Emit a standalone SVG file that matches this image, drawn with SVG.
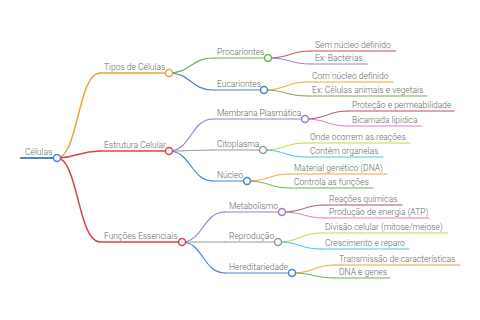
<svg xmlns="http://www.w3.org/2000/svg" width="480" height="320" viewBox="0 0 480 320">
<style>
text{font-family:Roboto,"Liberation Sans",sans-serif;font-weight:300;font-size:8.5px;fill:#666}
path,line{fill:none;stroke-linecap:round}
circle{fill:#fff;stroke-width:1.5}
.l0{stroke-width:2}.l1{stroke-width:1.5}.l2{stroke-width:1.2}.l3{stroke-width:1}
.blue{stroke:#4a86c5}.orange{stroke:#f0a33a}.red{stroke:#d64550}.green{stroke:#6fb24f}
.purple{stroke:#a07fd4}.gray{stroke:#9a9a9a}.cyan{stroke:#4ec3e0}.ygreen{stroke:#c8d44c}
.maroon{stroke:#a8556e}.pink{stroke:#e27bc4}
</style>
<rect width="480" height="320" fill="#fff"/>
<g id="connectors">
<path class="l1 orange" d="M57,158 C78,158 78,73 100,73"/>
<path class="l1 red" d="M57,158 C78,158 78,151 100,151"/>
<path class="l1 red" d="M57,158 C78,158 78,242 100,242"/>
<path class="l2 green" d="M169,73 C191,73 191,58 213,58"/>
<path class="l2 blue" d="M169,73 C191,73 191,90 213,90"/>
<path class="l2 purple" d="M169,151 C191,151 191,119 213,119"/>
<path class="l2 gray" d="M169,151 C191,151 191,150 213,150"/>
<path class="l2 blue" d="M169,151 C191,151 191,181 213,181"/>
<path class="l2 purple" d="M182,242 C203,242 203,212 225,212"/>
<path class="l2 gray" d="M182,242 C203,242 203,242 225,242"/>
<path class="l2 blue" d="M182,242 C203,242 203,273 225,273"/>
<path class="l3 red" d="M268,58 C290,58 290,51 311,51"/>
<path class="l3 purple" d="M268,58 C290,58 290,64 311,64"/>
<path class="l3 orange" d="M264,90 C286,90 286,82 308,82"/>
<path class="l3 green" d="M264,90 C286,90 286,96 308,96"/>
<path class="l3 maroon" d="M305,119 C327,119 327,111 348,111"/>
<path class="l3 pink" d="M305,119 C327,119 327,126 348,126"/>
<path class="l3 ygreen" d="M263,150 C285,150 285,143 306,143"/>
<path class="l3 cyan" d="M263,150 C285,150 285,157 306,157"/>
<path class="l3 orange" d="M247,181 C269,181 269,174 290,174"/>
<path class="l3 green" d="M247,181 C269,181 269,188 290,188"/>
<path class="l3 maroon" d="M282,212 C304,212 304,205 325,205"/>
<path class="l3 pink" d="M282,212 C304,212 304,218 325,218"/>
<path class="l3 ygreen" d="M278,242 C300,242 300,233 321,233"/>
<path class="l3 cyan" d="M278,242 C300,242 300,249 321,249"/>
<path class="l3 orange" d="M292,273 C314,273 314,265 335,265"/>
<path class="l3 green" d="M292,273 C314,273 314,278 335,278"/>
</g>
<g id="n-celulas"><line class="l0 blue" x1="21" y1="158" x2="53.5" y2="158"/><text x="25" y="155">Células</text><circle class="blue" cx="57" cy="158" r="3.5"/></g>
<g id="n-tipos"><line class="l1 orange" x1="100" y1="73" x2="165.5" y2="73"/><text x="104" y="70">Tipos de Células</text><circle class="orange" cx="169" cy="73" r="3.5"/></g>
<g id="n-estrutura"><line class="l1 red" x1="100" y1="151" x2="165.5" y2="151"/><text x="104" y="148">Estrutura Celular</text><circle class="red" cx="169" cy="151" r="3.5"/></g>
<g id="n-funcoes"><line class="l1 red" x1="100" y1="242" x2="178.5" y2="242"/><text x="104" y="239">Funções Essenciais</text><circle class="red" cx="182" cy="242" r="3.5"/></g>
<g id="n-procariontes"><line class="l2 green" x1="213" y1="58" x2="264.5" y2="58"/><text x="217" y="55">Procariontes</text><circle class="green" cx="268" cy="58" r="3.5"/></g>
<g id="n-eucariontes"><line class="l2 blue" x1="213" y1="90" x2="260.5" y2="90"/><text x="217" y="87">Eucariontes</text><circle class="blue" cx="264" cy="90" r="3.5"/></g>
<g id="n-membrana"><line class="l2 purple" x1="213" y1="119" x2="301.5" y2="119"/><text x="217" y="116">Membrana Plasmática</text><circle class="purple" cx="305" cy="119" r="3.5"/></g>
<g id="n-citoplasma"><line class="l2 gray" x1="213" y1="150" x2="259.5" y2="150"/><text x="217" y="147">Citoplasma</text><circle class="gray" cx="263" cy="150" r="3.5"/></g>
<g id="n-nucleo"><line class="l2 blue" x1="213" y1="181" x2="243.5" y2="181"/><text x="217" y="178">Núcleo</text><circle class="blue" cx="247" cy="181" r="3.5"/></g>
<g id="n-metabolismo"><line class="l2 purple" x1="225" y1="212" x2="278.5" y2="212"/><text x="229" y="209">Metabolismo</text><circle class="purple" cx="282" cy="212" r="3.5"/></g>
<g id="n-reproducao"><line class="l2 gray" x1="225" y1="242" x2="274.5" y2="242"/><text x="229" y="239">Reprodução</text><circle class="gray" cx="278" cy="242" r="3.5"/></g>
<g id="n-hereditariedade"><line class="l2 blue" x1="225" y1="273" x2="288.5" y2="273"/><text x="229" y="270">Hereditariedade</text><circle class="blue" cx="292" cy="273" r="3.5"/></g>
<g id="n-sem"><line class="l3 red" x1="311" y1="51" x2="396" y2="51"/><text x="315" y="48">Sem núcleo definido</text></g>
<g id="n-bacterias"><line class="l3 purple" x1="311" y1="64" x2="368" y2="64"/><text x="315" y="61">Ex: Bactérias</text></g>
<g id="n-com"><line class="l3 orange" x1="308" y1="82" x2="393" y2="82"/><text x="312" y="79">Com núcleo definido</text></g>
<g id="n-celanim"><line class="l3 green" x1="308" y1="96" x2="427" y2="96"/><text x="312" y="93">Ex: Células animais e vegetais</text></g>
<g id="n-protecao"><line class="l3 maroon" x1="348" y1="111" x2="454" y2="111"/><text x="352" y="108">Proteção e permeabilidade</text></g>
<g id="n-bicamada"><line class="l3 pink" x1="348" y1="126" x2="422" y2="126"/><text x="352" y="123">Bicamada lipídica</text></g>
<g id="n-onde"><line class="l3 ygreen" x1="306" y1="143" x2="410" y2="143"/><text x="310" y="140">Onde ocorrem as reações</text></g>
<g id="n-organelas"><line class="l3 cyan" x1="306" y1="157" x2="383" y2="157"/><text x="310" y="154">Contém organelas</text></g>
<g id="n-material"><line class="l3 orange" x1="290" y1="174" x2="387" y2="174"/><text x="294" y="171">Material genético (DNA)</text></g>
<g id="n-controla"><line class="l3 green" x1="290" y1="188" x2="373" y2="188"/><text x="294" y="185">Controla as funções</text></g>
<g id="n-reacoes"><line class="l3 maroon" x1="325" y1="205" x2="402" y2="205"/><text x="329" y="202">Reações químicas</text></g>
<g id="n-producao"><line class="l3 pink" x1="325" y1="218" x2="429" y2="218"/><text x="329" y="215">Produção de energia (ATP)</text></g>
<g id="n-divisao"><line class="l3 ygreen" x1="321" y1="233" x2="448" y2="233"/><text x="325" y="230">Divisão celular (mitose/meiose)</text></g>
<g id="n-crescimento"><line class="l3 cyan" x1="321" y1="249" x2="409" y2="249"/><text x="325" y="246">Crescimento e reparo</text></g>
<g id="n-transmissao"><line class="l3 orange" x1="335" y1="265" x2="460" y2="265"/><text x="339" y="262">Transmissão de características</text></g>
<g id="n-dna"><line class="l3 green" x1="335" y1="278" x2="390" y2="278"/><text x="339" y="275">DNA e genes</text></g>
</svg>
